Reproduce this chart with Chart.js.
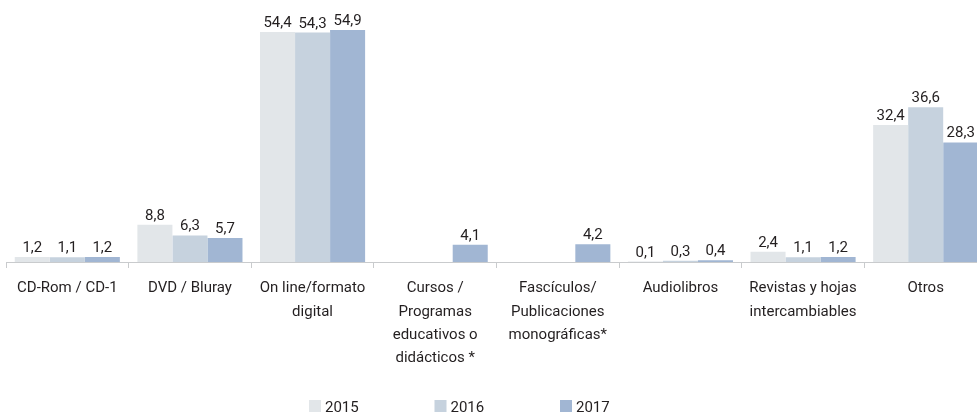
<!DOCTYPE html>
<html><head><meta charset="utf-8">
<script src="https://cdn.jsdelivr.net/npm/chart.js@4/dist/chart.umd.min.js"></script>
<style>
html,body{margin:0;padding:0;background:#fff;overflow:hidden;width:977px;height:413px}
#wrap{position:relative;width:990px;height:413px}
</style></head><body>
<div id="wrap"><canvas id="c" width="990" height="413"></canvas></div>
<script>
const categories = [
  "CD-Rom / CD-1",
  "DVD / Bluray",
  ["On line/formato", "digital"],
  ["Cursos /", "Programas", "educativos o", "didácticos *"],
  ["Fascículos/", "Publicaciones", "monográficas*"],
  "Audiolibros",
  ["Revistas y hojas", "intercambiables"],
  "Otros"
];
const seriesNames = ["2015", "2016", "2017"];
const values2015 = [1.2, 8.8, 54.4, null, null, 0.1, 2.4, 32.4];
const values2016 = [1.1, 6.3, 54.3, null, null, 0.3, 1.1, 36.6];
const values2017 = [1.2, 5.7, 54.9, 4.1, 4.2, 0.4, 1.2, 28.3];
const colors = ["#e2e6e9", "#c6d2de", "#a1b6d3"];

const FONT = "Roboto,'Liberation Sans',sans-serif";
const TEXT = "#231f20";

const labelPlugin = {
  id: 'valueLabels',
  afterDatasetsDraw(chart) {
    const ctx = chart.ctx;
    ctx.save();
    ctx.font = "15px " + FONT;
    ctx.fillStyle = TEXT;
    ctx.textAlign = 'center';
    ctx.textBaseline = 'alphabetic';
    chart.data.datasets.forEach((ds, i) => {
      const meta = chart.getDatasetMeta(i);
      meta.data.forEach((bar, j) => {
        const v = ds.data[j];
        if (v === null || v === undefined) return;
        ctx.fillText(v.toFixed(1).replace('.', ','), bar.x, bar.y - 5);
      });
    });
    ctx.restore();
  }
};

const legendPlugin = {
  id: 'customLegend',
  afterDraw(chart) {
    const ctx = chart.ctx;
    ctx.save();
    ctx.font = "15px " + FONT;
    ctx.textBaseline = 'alphabetic';
    ctx.textAlign = 'left';
    const startX = 309, pitch = 125.5, boxTop = 400;
    chart.data.datasets.forEach((ds, i) => {
      const x = startX + i * pitch;
      ctx.fillStyle = ds.backgroundColor;
      ctx.fillRect(x, boxTop, 12, 12);
      ctx.fillStyle = TEXT;
      ctx.fillText(ds.label, x + 16, boxTop + 12);
    });
    ctx.restore();
  }
};

new Chart(document.getElementById('c'), {
  type: 'bar',
  data: {
    labels: categories,
    datasets: [
      { label: seriesNames[0], data: values2015, backgroundColor: colors[0] },
      { label: seriesNames[1], data: values2016, backgroundColor: colors[1] },
      { label: seriesNames[2], data: values2017, backgroundColor: colors[2] }
    ]
  },
  options: {
    responsive: false,
    animation: false,
    layout: { padding: { left: 6, right: 3, top: 0, bottom: 0 } },
    datasets: { bar: { categoryPercentage: 0.857, barPercentage: 1.0, borderWidth: 0 } },
    plugins: { legend: { display: false }, tooltip: { enabled: false } },
    scales: {
      y: { display: false, min: 0, max: 62 },
      x: {
        afterFit(scale) { scale.height = 151; },
        border: { display: true, color: '#c9cbcd', width: 1 },
        grid: { display: true, drawOnChartArea: false, drawTicks: true, tickLength: 6, color: '#c9cbcd', offset: true },
        ticks: {
          color: TEXT,
          font: { family: FONT, size: 15, lineHeight: 1.555 },
          padding: 9,
          maxRotation: 0,
          autoSkip: false
        }
      }
    }
  },
  plugins: [labelPlugin, legendPlugin]
});
</script>
</body></html>
